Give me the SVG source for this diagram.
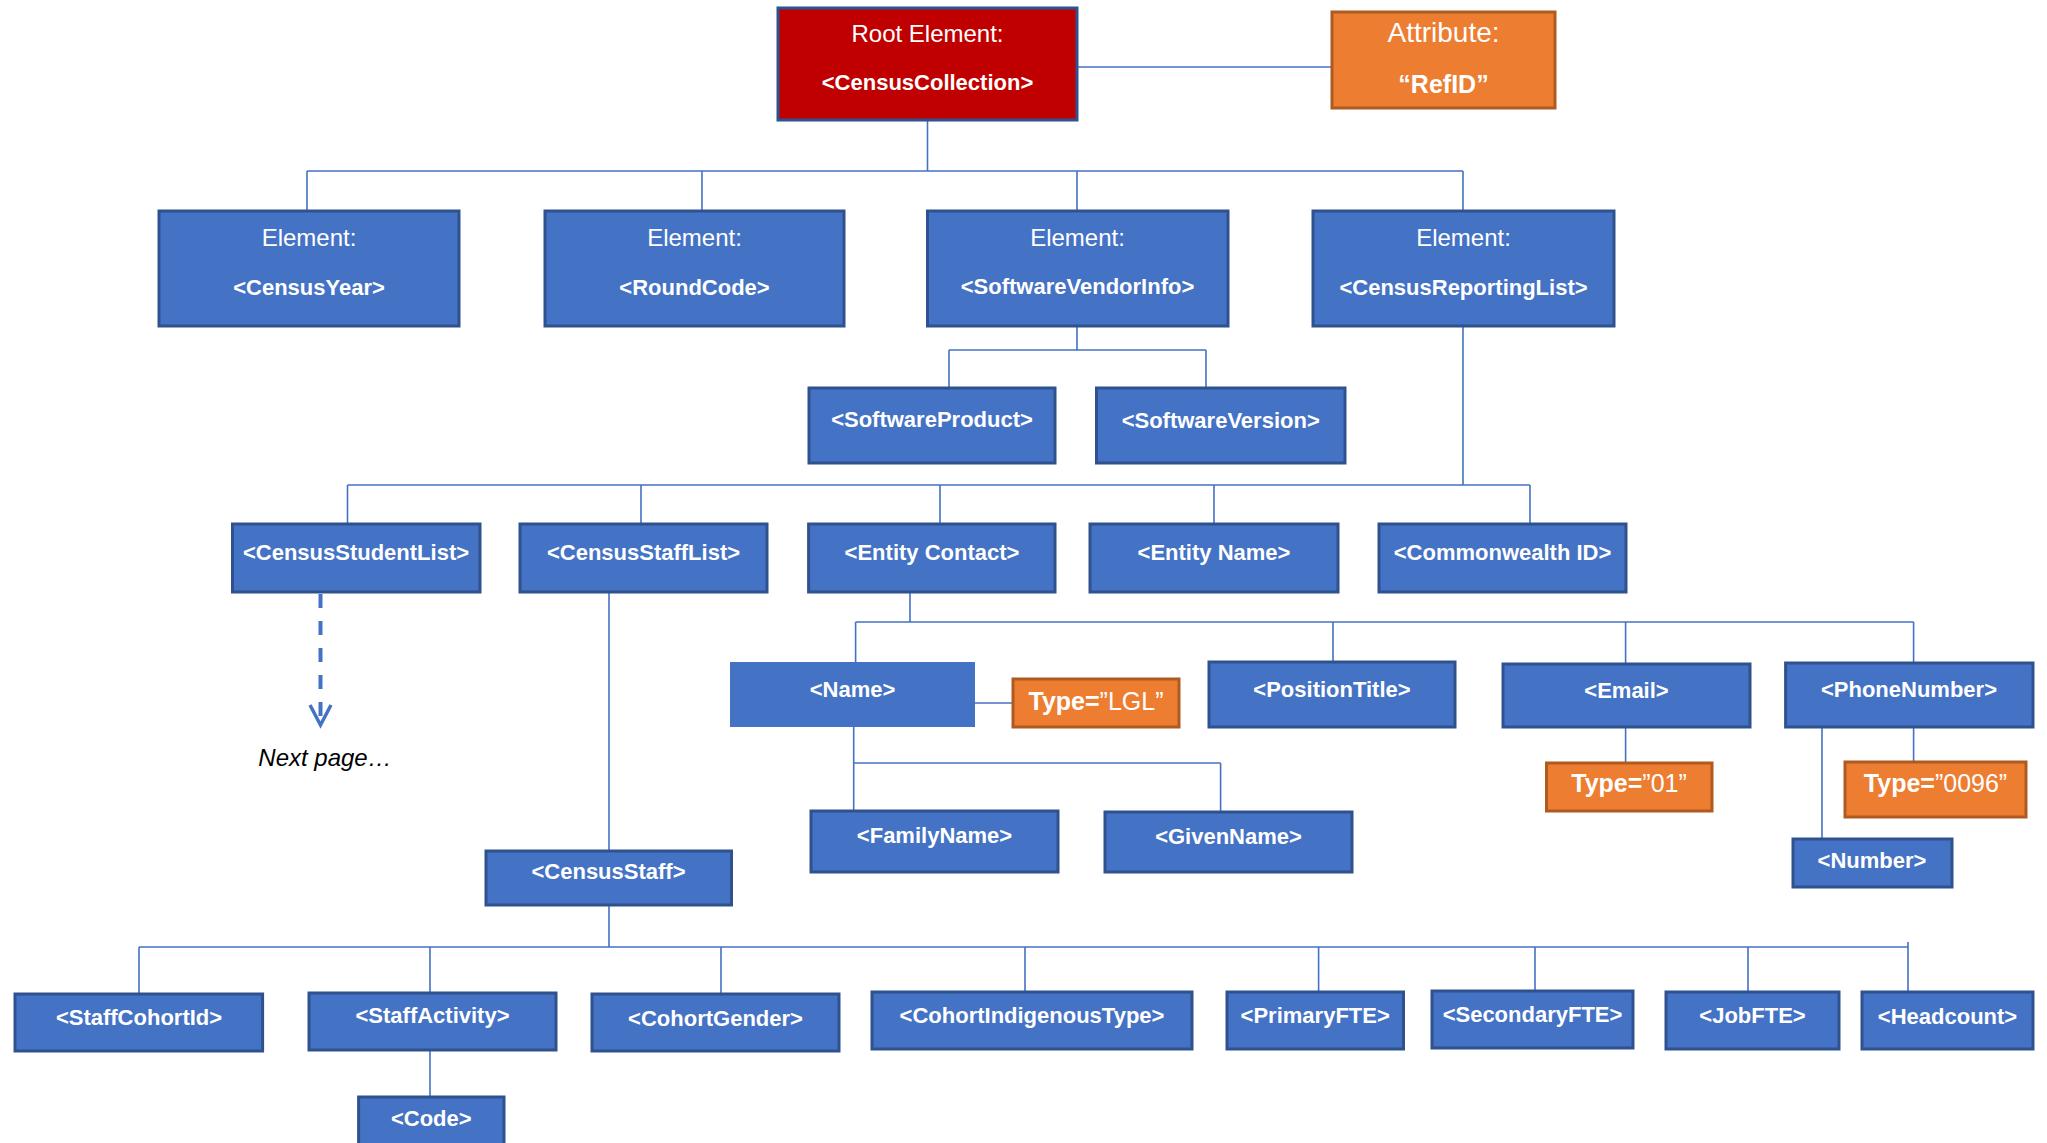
<svg xmlns="http://www.w3.org/2000/svg" width="2047" height="1143" viewBox="0 0 2047 1143">
<style>
.box{fill:#4472C4;stroke:#2F528F;stroke-width:3}
.plain{fill:#4472C4;stroke:none}
.root{fill:#C00000;stroke:#2F528F;stroke-width:3}
.attr{fill:#ED7D31;stroke:#AE5A21;stroke-width:3}
text{font-family:"Liberation Sans",Arial,sans-serif;fill:#fff;text-anchor:middle}
.b{font-weight:bold;font-size:22px}
.r{font-weight:normal;font-size:24px}
.t{font-weight:bold;font-size:25px}
.conn{stroke:#4472C4;stroke-width:1.6;fill:none}
</style>
<rect width="2047" height="1143" fill="#fff"/>
<g id="connectors">
<path class="conn" d="M1077 67H1332"/>
<path class="conn" d="M927.5 121V171M307 171H1463M307 171V211M702 171V211M1077 171V211M1463 171V211"/>
<path class="conn" d="M1077 326V350M949 350H1206M949 350V388M1206 350V388"/>
<path class="conn" d="M1463 326V485M347.5 485H1530M347.5 485V524M641 485V524M940 485V524M1214 485V524M1530 485V524"/>
<path d="M320.5 594V722" stroke="#4472C4" stroke-width="4" stroke-dasharray="14 13" fill="none"/>
<polyline points="310,705 320.5,725 331,705" stroke="#4472C4" stroke-width="3.5" fill="none"/>
<path class="conn" d="M609 592V851"/>
<path class="conn" d="M910 592V622M855.6 622H1913.6M855.6 622V662M1333 622V662M1625.6 622V664M1913.6 622V663"/>
<path class="conn" d="M975 703H1013"/>
<path class="conn" d="M853.7 727V811M853.7 763H1220.6M1220.6 763V812"/>
<path class="conn" d="M1625.6 727V763"/>
<path class="conn" d="M1913.6 727V762M1822 727V839"/>
<path class="conn" d="M609 905V947M139 947H1908M139 947V994M430 947V993M721 947V994M1025 947V992M1318.6 947V992M1535 947V991M1748 947V992M1908 942V992"/>
<path class="conn" d="M430 1050V1097"/>
</g>
<g id="root"><rect class="root" x="778" y="8" width="299" height="112"/><text class="r" x="927.5" y="42">Root Element:</text><text class="b" x="927.5" y="90">&lt;CensusCollection&gt;</text></g>
<g id="attr-refid"><rect class="attr" x="1332" y="12" width="223" height="96"/><text x="1443.5" y="42" style="font-size:28px">Attribute:</text><text x="1443.5" y="93" style="font-size:25px;font-weight:bold">“RefID”</text></g>
<g id="censusyear"><rect class="box" x="159" y="211" width="300" height="115"/><text class="r" x="309" y="246">Element:</text><text class="b" x="309" y="295">&lt;CensusYear&gt;</text></g>
<g id="roundcode"><rect class="box" x="545" y="211" width="299" height="115"/><text class="r" x="694.5" y="246">Element:</text><text class="b" x="694.5" y="295">&lt;RoundCode&gt;</text></g>
<g id="softwarevendorinfo"><rect class="box" x="927.5" y="211" width="300.5" height="115"/><text class="r" x="1077.5" y="246">Element:</text><text class="b" x="1077.5" y="294">&lt;SoftwareVendorInfo&gt;</text></g>
<g id="censusreportinglist"><rect class="box" x="1313" y="211" width="301" height="115"/><text class="r" x="1463.5" y="246">Element:</text><text class="b" x="1463.5" y="295">&lt;CensusReportingList&gt;</text></g>
<g id="softwareproduct"><rect class="box" x="809" y="388" width="246" height="75"/><text class="b" x="932" y="427">&lt;SoftwareProduct&gt;</text></g>
<g id="softwareversion"><rect class="box" x="1096.5" y="388" width="248.5" height="75"/><text class="b" x="1220.7" y="428">&lt;SoftwareVersion&gt;</text></g>
<g id="censusstudentlist"><rect class="box" x="232.5" y="524" width="247.5" height="68"/><text class="b" x="356" y="560">&lt;CensusStudentList&gt;</text></g>
<g id="censusstafflist"><rect class="box" x="520" y="524" width="247" height="68"/><text class="b" x="643.5" y="560">&lt;CensusStaffList&gt;</text></g>
<g id="entitycontact"><rect class="box" x="808.6" y="524" width="246.4" height="68"/><text class="b" x="932" y="560">&lt;Entity Contact&gt;</text></g>
<g id="entityname"><rect class="box" x="1090" y="524" width="248" height="68"/><text class="b" x="1214" y="560">&lt;Entity Name&gt;</text></g>
<g id="commonwealthid"><rect class="box" x="1379" y="524" width="247" height="68"/><text class="b" x="1502.5" y="560">&lt;Commonwealth ID&gt;</text></g>
<g id="nextpage"><text x="325" y="766" style="fill:#000;font-style:italic;font-size:24px">Next page…</text></g>
<g id="name"><rect class="plain" x="730" y="662" width="245" height="65"/><text class="b" x="852.5" y="697">&lt;Name&gt;</text></g>
<g id="type-lgl"><rect class="attr" x="1013" y="679" width="166" height="48"/><text x="1096" y="710" style="font-size:25px"><tspan font-weight="bold">Type=</tspan>”LGL”</text></g>
<g id="positiontitle"><rect class="box" x="1209" y="662" width="246" height="65"/><text class="b" x="1332" y="697">&lt;PositionTitle&gt;</text></g>
<g id="email"><rect class="box" x="1503" y="664" width="247" height="63"/><text class="b" x="1626.5" y="698">&lt;Email&gt;</text></g>
<g id="phonenumber"><rect class="box" x="1785.6" y="663" width="247.4" height="64"/><text class="b" x="1909" y="697">&lt;PhoneNumber&gt;</text></g>
<g id="familyname"><rect class="box" x="811" y="811" width="247" height="61"/><text class="b" x="934.5" y="843">&lt;FamilyName&gt;</text></g>
<g id="givenname"><rect class="box" x="1105" y="812" width="247" height="60"/><text class="b" x="1228.5" y="844">&lt;GivenName&gt;</text></g>
<g id="type-01"><rect class="attr" x="1546.5" y="763" width="165.5" height="48"/><text x="1629" y="792" style="font-size:25px"><tspan font-weight="bold">Type=</tspan>”01”</text></g>
<g id="type-0096"><rect class="attr" x="1845" y="762" width="181" height="55"/><text x="1935.5" y="792" style="font-size:25px"><tspan font-weight="bold">Type=</tspan>”0096”</text></g>
<g id="number"><rect class="box" x="1793" y="839" width="159" height="48"/><text class="b" x="1872" y="868">&lt;Number&gt;</text></g>
<g id="censusstaff"><rect class="box" x="486" y="851" width="245.5" height="54"/><text class="b" x="608.5" y="879">&lt;CensusStaff&gt;</text></g>
<g id="staffcohortid"><rect class="box" x="15" y="994" width="247.6" height="57"/><text class="b" x="139" y="1025">&lt;StaffCohortId&gt;</text></g>
<g id="staffactivity"><rect class="box" x="309" y="993" width="247" height="57"/><text class="b" x="432.5" y="1023">&lt;StaffActivity&gt;</text></g>
<g id="cohortgender"><rect class="box" x="592" y="994" width="247" height="57"/><text class="b" x="715.5" y="1026">&lt;CohortGender&gt;</text></g>
<g id="cohortindigenoustype"><rect class="box" x="872" y="992" width="320" height="57"/><text class="b" x="1032" y="1023">&lt;CohortIndigenousType&gt;</text></g>
<g id="primaryfte"><rect class="box" x="1227" y="992" width="176.5" height="57"/><text class="b" x="1315.2" y="1023">&lt;PrimaryFTE&gt;</text></g>
<g id="secondaryfte"><rect class="box" x="1432" y="991" width="201" height="57"/><text class="b" x="1532.5" y="1022">&lt;SecondaryFTE&gt;</text></g>
<g id="jobfte"><rect class="box" x="1666" y="992" width="173" height="57"/><text class="b" x="1752.5" y="1023">&lt;JobFTE&gt;</text></g>
<g id="headcount"><rect class="box" x="1862" y="992" width="171" height="57"/><text class="b" x="1947.5" y="1024">&lt;Headcount&gt;</text></g>
<g id="code"><rect class="box" x="358.6" y="1097" width="145.4" height="52"/><text class="b" x="431.3" y="1126">&lt;Code&gt;</text></g>
</svg>
